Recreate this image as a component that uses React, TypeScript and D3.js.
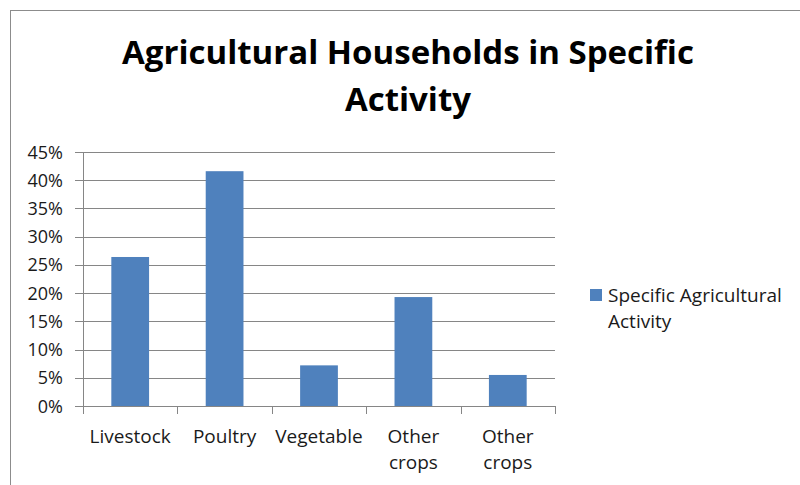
import * as d3 from "d3";
import { useEffect, useRef } from "react";

const categories = ["Livestock", "Poultry", "Vegetable", "Other crops", "Other crops "];
const values = [0.264, 0.416, 0.072, 0.193, 0.055];
const yTicks = [0, 0.05, 0.1, 0.15, 0.2, 0.25, 0.3, 0.35, 0.4, 0.45];
const seriesName = "Specific Agricultural Activity";
const titleLines = ["Agricultural Households in Specific", "Activity"];

export default function App() {
    const ref = useRef<SVGSVGElement>(null);

    const width = 800,
        height = 485;
    const plot = { left: 83, right: 555, top: 152, bottom: 406 };
    const font = "'Open Sans', Lato, sans-serif";

    useEffect(() => {
        const svg = d3.select(ref.current);
        svg.selectAll("*").remove();

        // chart frame
        svg.append("rect")
            .attr("x", 10.5)
            .attr("y", 10.5)
            .attr("width", width)
            .attr("height", height)
            .attr("fill", "white")
            .attr("stroke", "#8c8c8c")
            .attr("stroke-width", 1);

        const title = svg.append("text")
            .attr("text-anchor", "middle")
            .style("font-family", font)
            .style("font-weight", "bold")
            .style("font-size", "33px")
            .attr("fill", "#000");
        titleLines.forEach((line, i) => {
            title.append("tspan")
                .attr("x", 408)
                .attr("y", 64 + i * 47)
                .text(line);
        });

        const x = d3.scaleBand<string>()
            .domain(categories)
            .range([plot.left, plot.right])
            .paddingInner(0.6)
            .paddingOuter(0.3);

        const y = d3.scaleLinear()
            .domain([0, 0.45])
            .range([plot.bottom, plot.top]);

        // gridlines + y ticks
        const g = svg.append("g");
        g.selectAll("line.grid")
            .data(yTicks)
            .join("line")
            .attr("x1", plot.left - 8)
            .attr("x2", plot.right)
            .attr("y1", (d) => Math.round(y(d)) + 0.5)
            .attr("y2", (d) => Math.round(y(d)) + 0.5)
            .attr("stroke", "#868686")
            .attr("stroke-width", 1);

        g.selectAll("text.ylab")
            .data(yTicks)
            .join("text")
            .attr("x", 63)
            .attr("y", (d) => y(d) + 6.5)
            .attr("text-anchor", "end")
            .style("font-family", font)
            .style("font-size", "18px")
            .attr("fill", "#1a1a1a")
            .text((d) => d3.format(".0%")(d));

        // bars
        svg.append("g")
            .selectAll("rect")
            .data(values)
            .join("rect")
            .attr("x", (_d, i) => x(categories[i])!)
            .attr("y", (d) => y(d))
            .attr("width", x.bandwidth())
            .attr("height", (d) => y(0) - y(d))
            .attr("fill", "#4f81bd");

        // axes lines
        svg.append("line")
            .attr("x1", plot.left + 0.5)
            .attr("x2", plot.left + 0.5)
            .attr("y1", plot.top)
            .attr("y2", plot.bottom)
            .attr("stroke", "#868686");

        const step = x.step();
        const tickXs = d3.range(categories.length + 1).map((i) => plot.left + i * step);
        svg.append("g")
            .selectAll("line")
            .data(tickXs)
            .join("line")
            .attr("x1", (d) => Math.round(d) + 0.5)
            .attr("x2", (d) => Math.round(d) + 0.5)
            .attr("y1", plot.bottom)
            .attr("y2", plot.bottom + 8)
            .attr("stroke", "#868686");

        // x labels
        const xl = svg.append("g")
            .selectAll("text")
            .data(categories)
            .join("text")
            .attr("text-anchor", "middle")
            .style("font-family", font)
            .style("font-size", "19px")
            .attr("fill", "#1a1a1a");
        xl.each(function (d) {
            const words = d.trim().split(" ");
            const cx = x(d)! + x.bandwidth() / 2;
            words.forEach((w, i) => {
                d3.select(this).append("tspan")
                    .attr("x", cx)
                    .attr("y", 443 + i * 26)
                    .text(w);
            });
        });

        // legend
        svg.append("rect")
            .attr("x", 590)
            .attr("y", 289)
            .attr("width", 12)
            .attr("height", 12)
            .attr("fill", "#4f81bd");
        const lg = svg.append("text")
            .style("font-family", font)
            .style("font-size", "19px")
            .attr("fill", "#1a1a1a");
        ["Specific Agricultural", "Activity"].forEach((w, i) => {
            lg.append("tspan")
                .attr("x", 608)
                .attr("y", 302 + i * 26)
                .text(w);
        });
        lg.append("title").text(seriesName);
    }, []);

    return (
        <svg
            ref={ref}
            width={width}
            height={height}
            style={{ position: "absolute", left: 0, top: 0, background: "white" }}
        />
    );
}
